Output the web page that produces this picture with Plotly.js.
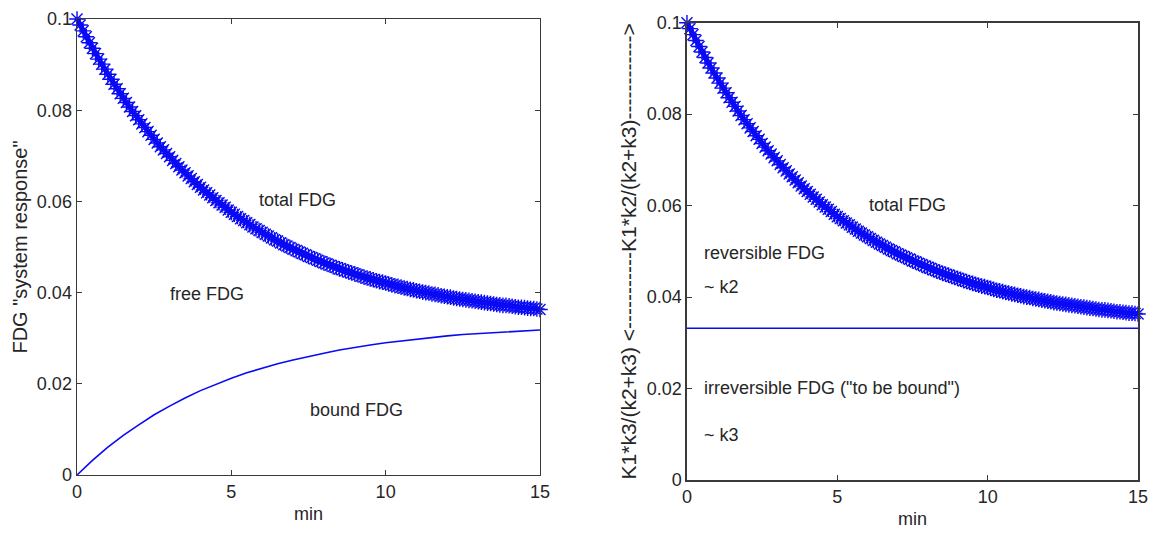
<!DOCTYPE html>
<html>
<head>
<meta charset="utf-8">
<script src="https://cdn.plot.ly/plotly-3.0.1.min.js"></script>
<style>
  html, body { margin: 0; padding: 0; background: #ffffff; }
  #chart { width: 1153px; height: 537px; }
</style>
</head>
<body>
<div id="chart"></div>
<script>
// sampling step of the total-FDG curve (minutes)
const totalStep = 0.1;
// total FDG "system response" read at t = 0, 0.1, ..., 15 min
const totalFDG = [
  0.1000, 0.0987, 0.0974, 0.0961, 0.0948, 0.0936, 0.0924, 0.0912, 0.0901, 0.0890,
  0.0879, 0.0868, 0.0857, 0.0847, 0.0836, 0.0826, 0.0817, 0.0807, 0.0797, 0.0788,
  0.0779, 0.0770, 0.0762, 0.0753, 0.0745, 0.0736, 0.0728, 0.0720, 0.0713, 0.0705,
  0.0698, 0.0690, 0.0683, 0.0676, 0.0669, 0.0663, 0.0656, 0.0650, 0.0643, 0.0637,
  0.0631, 0.0625, 0.0619, 0.0614, 0.0608, 0.0602, 0.0597, 0.0592, 0.0587, 0.0581,
  0.0576, 0.0572, 0.0567, 0.0562, 0.0558, 0.0553, 0.0549, 0.0544, 0.0540, 0.0536,
  0.0532, 0.0528, 0.0524, 0.0520, 0.0516, 0.0513, 0.0509, 0.0505, 0.0502, 0.0499,
  0.0495, 0.0492, 0.0489, 0.0486, 0.0483, 0.0479, 0.0477, 0.0474, 0.0471, 0.0468,
  0.0465, 0.0463, 0.0460, 0.0457, 0.0455, 0.0452, 0.0450, 0.0448, 0.0445, 0.0443,
  0.0441, 0.0439, 0.0436, 0.0434, 0.0432, 0.0430, 0.0428, 0.0426, 0.0424, 0.0423,
  0.0421, 0.0419, 0.0417, 0.0415, 0.0414, 0.0412, 0.0410, 0.0409, 0.0407, 0.0406,
  0.0404, 0.0403, 0.0401, 0.0400, 0.0399, 0.0397, 0.0396, 0.0395, 0.0393, 0.0392,
  0.0391, 0.0390, 0.0388, 0.0387, 0.0386, 0.0385, 0.0384, 0.0383, 0.0382, 0.0381,
  0.0380, 0.0379, 0.0378, 0.0377, 0.0376, 0.0375, 0.0374, 0.0373, 0.0372, 0.0372,
  0.0371, 0.0370, 0.0369, 0.0368, 0.0368, 0.0367, 0.0366, 0.0365, 0.0365, 0.0364,
  0.0363
];
// bound FDG read at t = 0, 0.5, ..., 15 min
const boundTime = [0, 0.5, 1, 1.5, 2, 2.5, 3, 3.5, 4, 4.5, 5, 5.5, 6, 6.5, 7, 7.5,
  8, 8.5, 9, 9.5, 10, 10.5, 11, 11.5, 12, 12.5, 13, 13.5, 14, 14.5, 15];
const boundFDG = [0, 0.0032, 0.0061, 0.0087, 0.0110, 0.0132, 0.0151, 0.0169, 0.0185,
  0.0199, 0.0212, 0.0224, 0.0234, 0.0244, 0.0252, 0.0260, 0.0267, 0.0274, 0.0280,
  0.0285, 0.0290, 0.0294, 0.0298, 0.0301, 0.0305, 0.0308, 0.0310, 0.0313, 0.0315,
  0.0317, 0.0318];
// split level between reversible and irreversible FDG (right panel)
const splitTime = [0, 15];
const splitLevel = [0.0332, 0.0332];

const xTicks = [0, 5, 10, 15];
const yTicks = [0, 0.02, 0.04, 0.06, 0.08, 0.1];
const yTickText = ["0", "0.02", "0.04", "0.06", "0.08", "0.1"];

const totalTime = totalFDG.map((_, i) => Math.round(i * totalStep * 10) / 10);

const blue = "#0a0af5";
const ink = "#262626";
const axisColor = "#3a3a3a";
const fontFam = "Liberation Sans, Arial, sans-serif";

const starTrace = (xa, ya) => ({
  x: totalTime, y: totalFDG, xaxis: xa, yaxis: ya,
  type: "scatter", mode: "lines+markers", cliponaxis: false,
  line: { color: blue, width: 5 },
  marker: { symbol: "asterisk-open", size: 13, color: blue, line: { color: blue, width: 1.4 } },
  hoverinfo: "skip", showlegend: false
});

const data = [
  starTrace("x", "y"),
  { x: boundTime, y: boundFDG, xaxis: "x", yaxis: "y", type: "scatter", mode: "lines",
    line: { color: blue, width: 1.6 }, showlegend: false, cliponaxis: false },
  starTrace("x2", "y2"),
  { x: splitTime, y: splitLevel, xaxis: "x2", yaxis: "y2", type: "scatter", mode: "lines",
    line: { color: blue, width: 1.6 }, showlegend: false, cliponaxis: false }
];

const xAxisBase = {
  range: [0, 15], tickvals: xTicks, ticktext: xTicks.map(String),
  ticks: "inside", ticklen: 5, tickcolor: axisColor, tickwidth: 1,
  showline: true, linecolor: axisColor, linewidth: 1.5, mirror: "ticks",
  showgrid: false, zeroline: false, automargin: false,
  tickfont: { family: fontFam, size: 18, color: ink },
  title: { text: "min", font: { family: fontFam, size: 18, color: ink }, standoff: 6 }
};
const yAxisBase = {
  range: [0, 0.1], tickvals: yTicks, ticktext: yTickText,
  ticks: "inside", ticklen: 5, tickcolor: axisColor, tickwidth: 1,
  showline: true, linecolor: axisColor, linewidth: 1.5, mirror: "ticks",
  showgrid: false, zeroline: false, automargin: false,
  tickfont: { family: fontFam, size: 18, color: ink }
};

const ann = (xref, yref, x, y, text, xanchor) => ({
  xref, yref, x, y, text, showarrow: false, xanchor: xanchor || "center", yanchor: "middle",
  font: { family: fontFam, size: 18, color: ink }
});

const layout = {
  width: 1153, height: 537,
  margin: { l: 0, r: 0, t: 0, b: 0 },
  paper_bgcolor: "#ffffff", plot_bgcolor: "#ffffff",
  showlegend: false,
  xaxis: Object.assign({}, xAxisBase, { domain: [0.0668, 0.4683], anchor: "y" }),
  yaxis: Object.assign({}, yAxisBase, { domain: [0.1155, 0.9646], anchor: "x",
    title: { text: 'FDG "system response"', font: { family: fontFam, size: 20, color: ink }, standoff: 4 } }),
  xaxis2: Object.assign({}, xAxisBase, { domain: [0.5958, 0.9870], anchor: "y2" }),
  yaxis2: Object.assign({}, yAxisBase, { domain: [0.1061, 0.9577], anchor: "x2",
    title: { text: "K1*k3/(k2+k3) <-----------K1*k2/(k2+k3)------------>", font: { family: fontFam, size: 21, color: ink }, standoff: 4 } }),
  annotations: [
    ann("x", "y", 7.13, 0.0603, "total FDG"),
    ann("x", "y", 4.21, 0.0397, "free FDG"),
    ann("x", "y", 9.07, 0.0143, "bound FDG"),
    ann("x2", "y2", 7.32, 0.0602, "total FDG"),
    ann("x2", "y2", 0.5, 0.0497, "reversible FDG", "left"),
    ann("x2", "y2", 0.5, 0.0421, "~ k2", "left"),
    ann("x2", "y2", 0.5, 0.0202, 'irreversible FDG ("to be bound")', "left"),
    ann("x2", "y2", 0.5, 0.0099, "~ k3", "left")
  ]
};

Plotly.newPlot("chart", data, layout, { staticPlot: true, displayModeBar: false });
</script>
</body>
</html>
